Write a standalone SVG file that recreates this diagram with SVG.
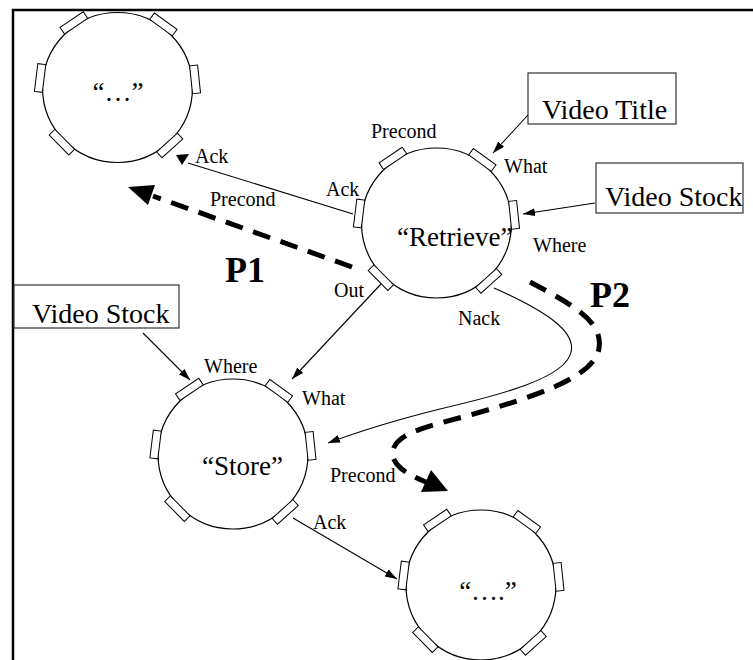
<svg xmlns="http://www.w3.org/2000/svg" xmlns:xlink="http://www.w3.org/1999/xlink" width="753" height="660" viewBox="0 0 753 660">
<style>
  .circ { fill: #fff; stroke: #000; stroke-width: 1.2; }
  .port { fill: #fff; stroke: #000; stroke-width: 1; }
  .box { fill: #fff; stroke: #333; stroke-width: 1.2; }
  .lbl { font-family: "Liberation Serif", "Times New Roman", serif; font-size: 20px; fill: #000; }
  .big { font-family: "Liberation Serif", "Times New Roman", serif; font-size: 28px; fill: #000; }
  .name { font-family: "Liberation Serif", "Times New Roman", serif; font-size: 27px; fill: #000; }
  .p { font-family: "Liberation Serif", "Times New Roman", serif; font-size: 36px; font-weight: bold; fill: #000; }
  .conn { fill: none; stroke: #000; stroke-width: 1.1; }
  .dash { fill: none; stroke: #000; stroke-width: 5; stroke-dasharray: 18 11; }
  .head { fill: #000; stroke: none; }
  .frame { fill: none; stroke: #000; stroke-width: 2.5; }
</style>
<defs>
  <marker id="arr" markerUnits="userSpaceOnUse" markerWidth="14" markerHeight="10" refX="12" refY="4" orient="auto">
    <path d="M0,0 L12,4 L0,8 z" fill="#000"/>
  </marker>
  <g id="nodeShape">
    <circle class="circ" cx="0" cy="0" r="75"/>
    <rect class="port" x="74" y="-14" width="8" height="28" transform="rotate(-124)"/>
    <rect class="port" x="74" y="-14" width="8" height="28" transform="rotate(-54)"/>
    <rect class="port" x="74" y="-14" width="8" height="28" transform="rotate(187)"/>
    <rect class="port" x="74" y="-14" width="8" height="28" transform="rotate(-6)"/>
    <rect class="port" x="74" y="-14" width="8" height="28" transform="rotate(135.5)"/>
    <rect class="port" x="74" y="-14" width="8" height="28" transform="rotate(48)"/>
  </g>
</defs>
<rect x="0" y="0" width="753" height="660" fill="#fff"/>
<path class="frame" d="M13,660 L13,10 L753,10"/>

<g id="node-dots3">
  <use xlink:href="#nodeShape" href="#nodeShape" x="117.5" y="87.5"/>
  <text class="name" x="118" y="101" text-anchor="middle">“…”</text>
</g>
<g id="node-retrieve">
  <use xlink:href="#nodeShape" href="#nodeShape" x="436.5" y="223"/>
  <text class="name" x="397" y="246">“Retrieve”</text>
</g>
<g id="node-store">
  <use xlink:href="#nodeShape" href="#nodeShape" x="233" y="454"/>
  <text class="name" x="202" y="475">“Store”</text>
</g>
<g id="node-dots4">
  <use xlink:href="#nodeShape" href="#nodeShape" x="481" y="585"/>
  <text class="name" x="488" y="600" text-anchor="middle">“….”</text>
</g>

<g id="box-video-title">
  <rect class="box" x="528" y="73" width="148" height="51"/>
  <text class="big" x="542" y="119">Video Title</text>
</g>
<g id="box-video-stock-right">
  <rect class="box" x="596" y="163" width="147" height="50"/>
  <text class="big" x="605" y="206">Video Stock</text>
</g>
<g id="box-video-stock-left">
  <rect class="box" x="14" y="285" width="165" height="43"/>
  <text class="big" x="32" y="323">Video Stock</text>
</g>

<g id="connectors">
  <line class="conn" x1="353" y1="214" x2="188" y2="163"/>
  <polygon class="head" points="176,155 189,154 182,165"/>
  <line class="conn" x1="528" y1="115" x2="493" y2="153" marker-end="url(#arr)"/>
  <line class="conn" x1="595" y1="203" x2="523" y2="214" marker-end="url(#arr)"/>
  <line class="conn" x1="143" y1="333" x2="190" y2="380" marker-end="url(#arr)"/>
  <line class="conn" x1="381" y1="284" x2="292" y2="379" marker-end="url(#arr)"/>
  <path class="conn" d="M494,288 C548,312 576,332 571,352 C566,378 500,395 440,409 C400,419 360,431 328,443" marker-end="url(#arr)"/>
  <line class="conn" x1="293" y1="518" x2="397" y2="579" marker-end="url(#arr)"/>

  <path class="dash" d="M352,267 L153,196"/>
  <polygon class="head" points="128,187 155,185 148,205"/>
  <path class="dash" d="M530,282 C575,306 603,322 599,348 C595,378 530,398 470,415 C430,426 398,432 393,450 C390,463 405,474 426,482"/>
  <polygon class="head" points="448,491 431,470 421,492"/>
</g>

<g id="labels">
  <text class="lbl" x="195" y="163">Ack</text>
  <text class="lbl" x="210" y="206">Precond</text>
  <text class="lbl" x="326" y="196">Ack</text>
  <text class="lbl" x="371" y="138">Precond</text>
  <text class="lbl" x="504" y="173">What</text>
  <text class="lbl" x="533" y="252">Where</text>
  <text class="lbl" x="334" y="297">Out</text>
  <text class="lbl" x="458" y="325">Nack</text>
  <text class="lbl" x="204" y="373">Where</text>
  <text class="lbl" x="302" y="405">What</text>
  <text class="lbl" x="330" y="482">Precond</text>
  <text class="lbl" x="313" y="529">Ack</text>
  <text class="p" x="225" y="282">P1</text>
  <text class="p" x="590" y="307">P2</text>
</g>
</svg>
